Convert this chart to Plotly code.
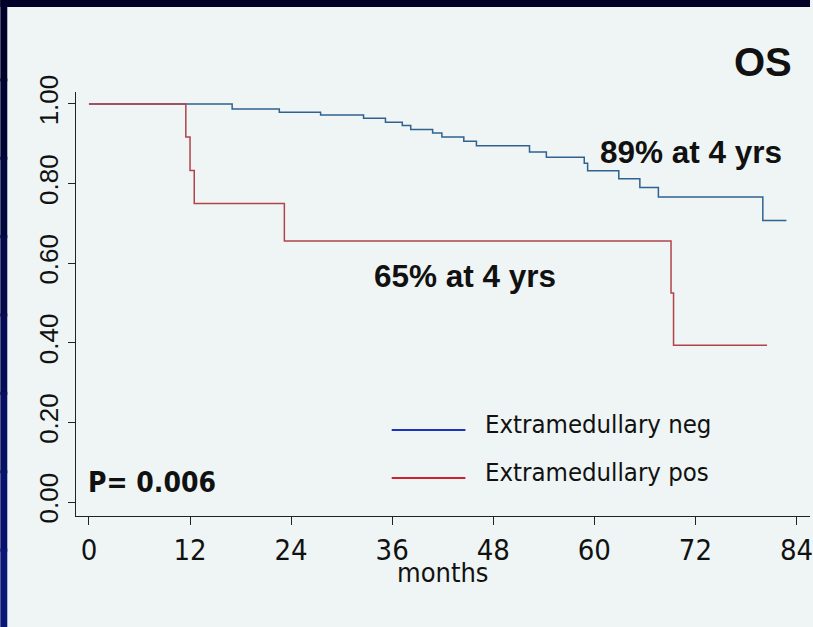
import plotly.graph_objects as go

# ---- data ----
neg_months = [0, 17.0, 22.6, 27.5, 32.6, 35.2, 37.2, 38.2, 40.8, 41.9, 44.5, 46.0,
              52.3, 54.3, 58.8, 59.2, 62.9, 65.4, 67.6, 80.0, 82.8]
neg_surv = [1.0, 0.987, 0.979, 0.972, 0.964, 0.954, 0.946, 0.936, 0.927, 0.917, 0.906, 0.895,
            0.879, 0.866, 0.851, 0.832, 0.812, 0.790, 0.766, 0.707, 0.707]
pos_months = [0, 11.5, 12.0, 12.5, 23.2, 69.1, 69.4, 80.5]
pos_surv = [1.0, 0.917, 0.833, 0.750, 0.656, 0.525, 0.394, 0.394]

x_ticks = [0, 12, 24, 36, 48, 60, 72, 84]
y_ticks = [0.0, 0.2, 0.4, 0.6, 0.8, 1.0]
y_ticktext = ["0.00", "0.20", "0.40", "0.60", "0.80", "1.00"]

series_names = ["Extramedullary neg", "Extramedullary pos"]
title_text = "OS"
label_neg = "89% at 4 yrs"
label_pos = "65% at 4 yrs"
p_text = "P= 0.006"
x_title = "months"

BG = "#eef5f4"
BLUE = "#2f6290"
RED = "#b2434c"
LEG_BLUE = "#1a35b5"
LEG_RED = "#cc2333"
NARROW = "DejaVu Sans Condensed, Liberation Sans Narrow, sans-serif"
SANS = "Liberation Sans, Arial, sans-serif"

W, H = 813, 627
ML, MR, MT, MB = 76, 0, 92, 111
PW = W - ML - MR
PH = H - MT - MB


def px_x(p):
    return (p - ML) / PW


def px_y(p):
    return (H - MB - p) / PH


fig = go.Figure()
fig.add_trace(go.Scatter(x=neg_months, y=neg_surv, mode="lines", line_shape="hv",
                         line=dict(color=BLUE, width=1.5), name=series_names[0]))
fig.add_trace(go.Scatter(x=pos_months, y=pos_surv, mode="lines", line_shape="hv",
                         line=dict(color=RED, width=1.5), name=series_names[1]))

shapes = []
# dark slide frame: top band and left band (gradient approximated)
n = 8
for i in range(n):
    t = i / (n - 1)
    r = int(0 + 10 * t)
    g = int(0 + 22 * t)
    b = int(42 + 76 * t)
    y_top = H * i / n
    y_bot = min(H, H * (i + 1) / n + 3)
    shapes.append(dict(type="rect", xref="paper", yref="paper",
                       x0=px_x(0), x1=px_x(7),
                       y0=px_y(y_bot), y1=px_y(y_top),
                       fillcolor=f"rgb({r},{g},{b})", line=dict(width=0), layer="above"))
shapes.append(dict(type="rect", xref="paper", yref="paper",
                   x0=px_x(0), x1=px_x(W), y0=px_y(7), y1=px_y(0),
                   fillcolor="#000028", line=dict(width=0), layer="above"))
# legend lines
shapes.append(dict(type="line", xref="paper", yref="paper",
                   x0=px_x(393), x1=px_x(467), y0=px_y(430), y1=px_y(430),
                   line=dict(color=LEG_BLUE, width=2)))
shapes.append(dict(type="line", xref="paper", yref="paper",
                   x0=px_x(393), x1=px_x(467), y0=px_y(478), y1=px_y(478),
                   line=dict(color=LEG_RED, width=2)))

annotations = [
    dict(text=f"<b>{title_text}</b>", xref="paper", yref="paper", x=px_x(766), y=px_y(62),
         showarrow=False, font=dict(family=SANS, size=40, color="#111111"),
         xanchor="center", yanchor="middle"),
    dict(text=f"<b>{label_neg}</b>", xref="paper", yref="paper", x=px_x(694), y=px_y(152),
         showarrow=False, font=dict(family=SANS, size=31.5, color="#111111"),
         xanchor="center", yanchor="middle"),
    dict(text=f"<b>{label_pos}</b>", xref="paper", yref="paper", x=px_x(467), y=px_y(276),
         showarrow=False, font=dict(family=SANS, size=31.5, color="#111111"),
         xanchor="center", yanchor="middle"),
    dict(text=f"<b>{p_text}</b>", xref="paper", yref="paper", x=px_x(86), y=px_y(482),
         showarrow=False, font=dict(family=NARROW, size=28, color="#111111"),
         xanchor="left", yanchor="middle"),
    dict(text=series_names[0], xref="paper", yref="paper", x=px_x(485), y=px_y(424),
         showarrow=False, font=dict(family=NARROW, size=25.5, color="#111111"),
         xanchor="left", yanchor="middle"),
    dict(text=series_names[1], xref="paper", yref="paper", x=px_x(485), y=px_y(472),
         showarrow=False, font=dict(family=NARROW, size=25.5, color="#111111"),
         xanchor="left", yanchor="middle"),
    dict(text=x_title, xref="paper", yref="paper", x=px_x(444), y=px_y(572),
         showarrow=False, font=dict(family=NARROW, size=27, color="#111111"),
         xanchor="center", yanchor="middle"),
]

fig.update_layout(
    width=W, height=H,
    margin=dict(l=ML, r=MR, t=MT, b=MB, pad=0),
    paper_bgcolor=BG, plot_bgcolor=BG,
    showlegend=False,
    shapes=shapes, annotations=annotations,
    xaxis=dict(range=[-13 / 8.458, (W - 89) / 8.458], tickvals=x_ticks,
               ticktext=[str(v) for v in x_ticks],
               showgrid=False, zeroline=False, showline=True, linecolor="#222222", linewidth=1,
               ticks="outside", ticklen=8, tickcolor="#222222", ticklabeloverflow="allow",
               tickfont=dict(family=NARROW, size=29, color="#111111")),
    yaxis=dict(range=[-0.035, 1.030], tickvals=y_ticks, ticktext=y_ticktext,
               showgrid=False, zeroline=False, showline=True, linecolor="#222222", linewidth=1,
               ticks="outside", ticklen=7, tickcolor="#222222", tickangle=-90,
               ticklabeloverflow="allow",
               tickfont=dict(family=SANS, size=26, color="#111111")),
)

fig.write_html(
    "out.html", config={"displayModeBar": False},
    post_script=("document.body.style.margin='0';"
                 "document.body.style.overflow='hidden';"
                 "document.documentElement.style.overflow='hidden';"
                 "document.body.style.background='#eef5f4';"))
